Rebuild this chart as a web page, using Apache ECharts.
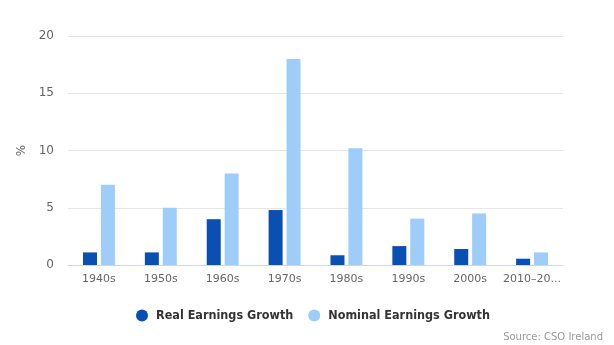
<!DOCTYPE html>
<html><head><meta charset="utf-8">
<script src="https://cdn.jsdelivr.net/npm/echarts@6/dist/echarts.min.js"></script>
<style>html,body{margin:0;padding:0;background:#fff}#c{width:614px;height:345px}</style>
</head><body><div id="c"></div>
<script>
const categories = ["1940s","1950s","1960s","1970s","1980s","1990s","2000s","2010–2019"];
const realGrowth = [1.1, 1.1, 4.0, 4.8, 0.85, 1.65, 1.4, 0.55];
const nominalGrowth = [7.0, 5.0, 8.0, 18.0, 10.2, 4.05, 4.5, 1.1];
const yTicks = [0, 5, 10, 15, 20];
const seriesNames = ["Real Earnings Growth", "Nominal Earnings Growth"];
const sourceText = "Source: CSO Ireland";

const chart = echarts.init(document.getElementById('c'), null, {renderer:'canvas'});
const font = "DejaVu Sans";
chart.setOption({
  animation:false,
  textStyle:{fontFamily:font},
  grid:{left:68,right:51,top:36,bottom:80},
  legend:{
    bottom:18, left:131, icon:'circle', itemWidth:12, itemHeight:12, itemGap:15,
    textStyle:{fontFamily:"'DejaVu Sans Condensed'",fontWeight:'bold',fontSize:12.5,color:'#333',padding:[0,0,0,3]},
    data:seriesNames
  },
  graphic:[{type:'text',right:11,bottom:3,style:{text:sourceText,fontFamily:font,fontSize:10,fill:'#999'}}],
  xAxis:{
    type:'category', data:categories,
    axisLine:{lineStyle:{color:'#ccd6eb'}},
    axisTick:{show:false},
    axisLabel:{color:'#666',fontSize:11,margin:9,width:60,overflow:'truncate',ellipsis:'...',interval:0}
  },
  yAxis:{
    type:'value', min:yTicks[0], max:yTicks[yTicks.length-1], interval:5,
    name:'%', nameLocation:'middle', nameGap:32, nameRotate:90,
    nameTextStyle:{color:'#666',fontSize:12},
    axisLabel:{color:'#666',fontSize:12,margin:14},
    splitLine:{lineStyle:{color:'#e6e6e6'}},
    axisLine:{show:false}, axisTick:{show:false}
  },
  series:[
    {name:seriesNames[0],type:'bar',data:realGrowth,barWidth:14,barGap:'28%',itemStyle:{color:'#0a4fb2'}},
    {name:seriesNames[1],type:'bar',data:nominalGrowth,barWidth:14,barGap:'28%',itemStyle:{color:'#9dcdf8'}}
  ]
});
</script></body></html>
